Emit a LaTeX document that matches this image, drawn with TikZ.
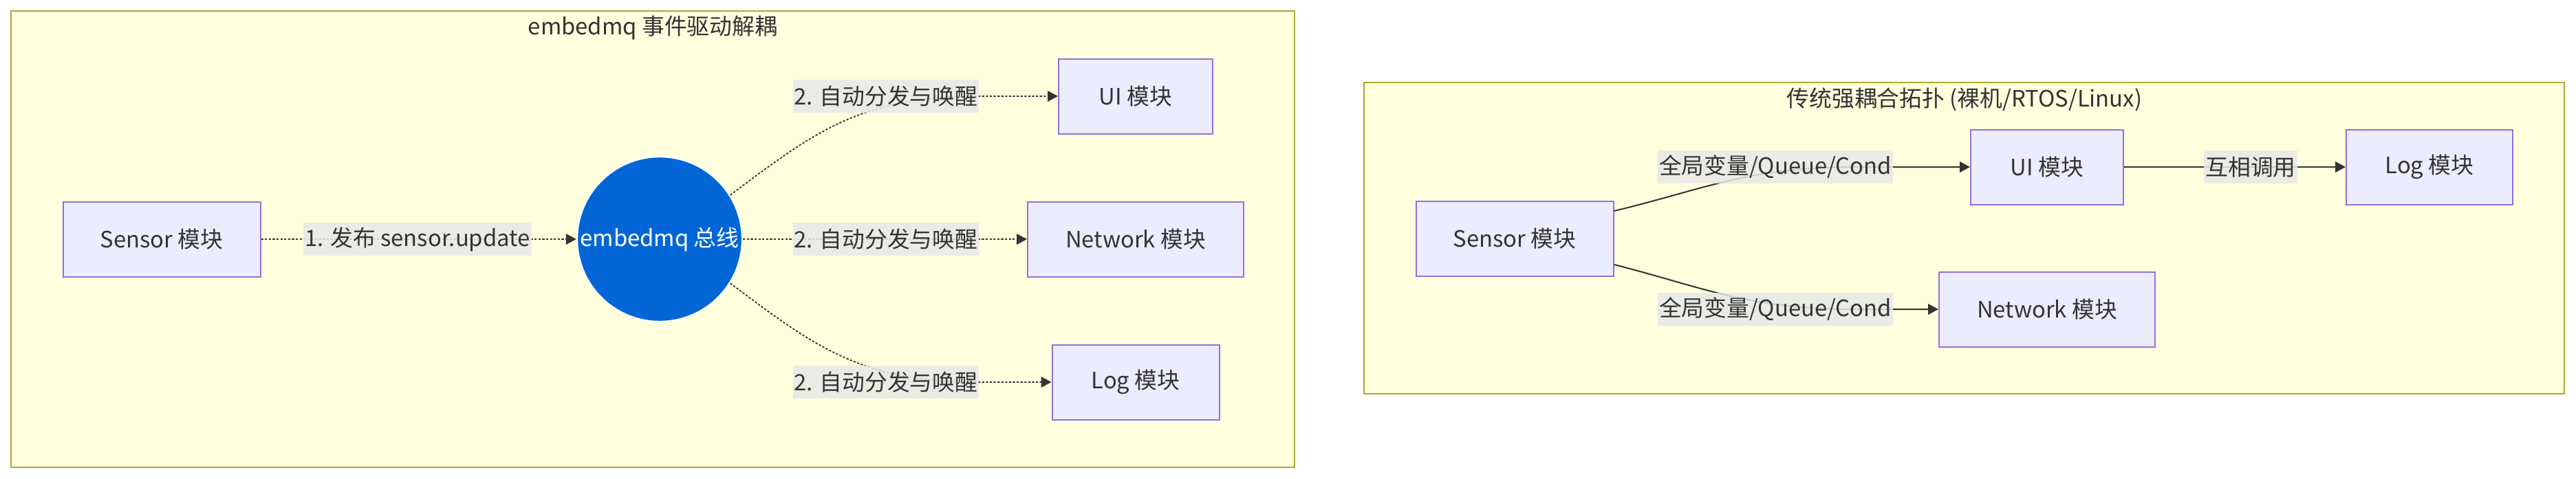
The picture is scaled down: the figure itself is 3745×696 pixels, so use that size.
\documentclass[tikz,border=0pt]{standalone}
\usepackage{fontspec}
\setmainfont{Noto Sans CJK SC}
\usetikzlibrary{arrows.meta}
\definecolor{clfill}{HTML}{FFFFDE}
\definecolor{clborder}{HTML}{AAAA33}
\definecolor{nodefill}{HTML}{ECECFF}
\definecolor{nodeborder}{HTML}{9370DB}
\definecolor{txt}{HTML}{333333}
\definecolor{lblbg}{HTML}{E8E8E8}
\definecolor{busblue}{HTML}{0366D6}
\tikzset{
  txtfont/.style={font=\fontsize{8.2}{10}\selectfont},
  cluster/.style={draw=clborder, fill=clfill, line width=0.6pt},
  ctitle/.style={text=txt, txtfont, inner sep=0pt},
  mod/.style={draw=nodeborder, fill=nodefill, line width=0.5pt, text=txt,
    txtfont, minimum height=27.25pt, inner sep=0pt},
  bus/.style={circle, draw=white, fill=busblue, line width=0.6pt, text=white,
    txtfont, minimum size=60pt, inner sep=0pt},
  lbl/.style={fill=lblbg, fill opacity=0.85, text opacity=1, text=txt,
    txtfont, minimum height=12pt, inner xsep=0.5pt, inner ysep=0pt},
  flow/.style={draw=txt, line width=0.45pt, dash pattern=on 0.8pt off 0.6pt,
    -{Triangle[length=3.75pt,width=3.9pt]}},
  call/.style={draw=txt, line width=0.5pt, -{Triangle[length=3.75pt,width=3.9pt]}},
}
\begin{document}
\begin{tikzpicture}[x=0.25pt, y=-0.25pt]
\useasboundingbox (0,0) rectangle (3745,696);
% ---------- left cluster ----------
\draw[cluster] (16,16) rectangle (1882,680);
\node[ctitle] (t1) at (949,40) {embedmq 事件驱动解耦};
\node[mod, minimum width=71.75pt] (sensA) at (235,348) {Sensor 模块};
\node[bus] (busA) at (959,348) {embedmq 总线};
\node[mod, minimum width=56pt] (uiA) at (1651,140) {UI 模块};
\node[mod, minimum width=78.5pt] (netA) at (1651,348) {Network 模块};
\node[mod, minimum width=60.75pt] (logA) at (1651,556) {Log 模块};
\draw[flow] (sensA.east) -- (busA.west);
\draw[flow] (busA.32) .. controls (1180,195) and (1250,140) .. (1420,140) -- (uiA.west);
\draw[flow] (busA.east) -- (netA.west);
\draw[flow] (busA.-32) .. controls (1180,501) and (1250,556) .. (1420,556) -- (logA.west);
\node[lbl] (l1) at (607,348) {1. 发布 sensor.update};
\node[lbl] (l2) at (1288,140) {2. 自动分发与唤醒};
\node[lbl] (l3) at (1288,348) {2. 自动分发与唤醒};
\node[lbl] (l4) at (1288,556) {2. 自动分发与唤醒};
% ---------- right cluster ----------
\draw[cluster] (1983,120) rectangle (3728,573);
\node[ctitle] (t2) at (2856,145) {传统强耦合拓扑 (裸机/RTOS/Linux)};
\node[mod, minimum width=71.75pt] (sensB) at (2202,347) {Sensor 模块};
\node[mod, minimum width=55.5pt] (uiB) at (2976,243) {UI 模块};
\node[mod, minimum width=60.5pt] (logB) at (3532,243) {Log 模块};
\node[mod, minimum width=78.5pt] (netB) at (2976,450) {Network 模块};
\draw[call] ([yshift=10pt]sensB.east) .. controls (2480,275) and (2540,243) .. (2700,243) -- (uiB.west);
\draw[call] ([yshift=-9.5pt]sensB.east) .. controls (2480,419) and (2540,450) .. (2700,450) -- (netB.west);
\draw[call] (uiB.east) -- (logB.west);
\node[lbl] (lb1) at (2581,243) {全局变量/Queue/Cond};
\node[lbl] (lb2) at (2581,450) {全局变量/Queue/Cond};
\node[lbl] (lb3) at (3272,243) {互相调用};
\end{tikzpicture}
\end{document}
